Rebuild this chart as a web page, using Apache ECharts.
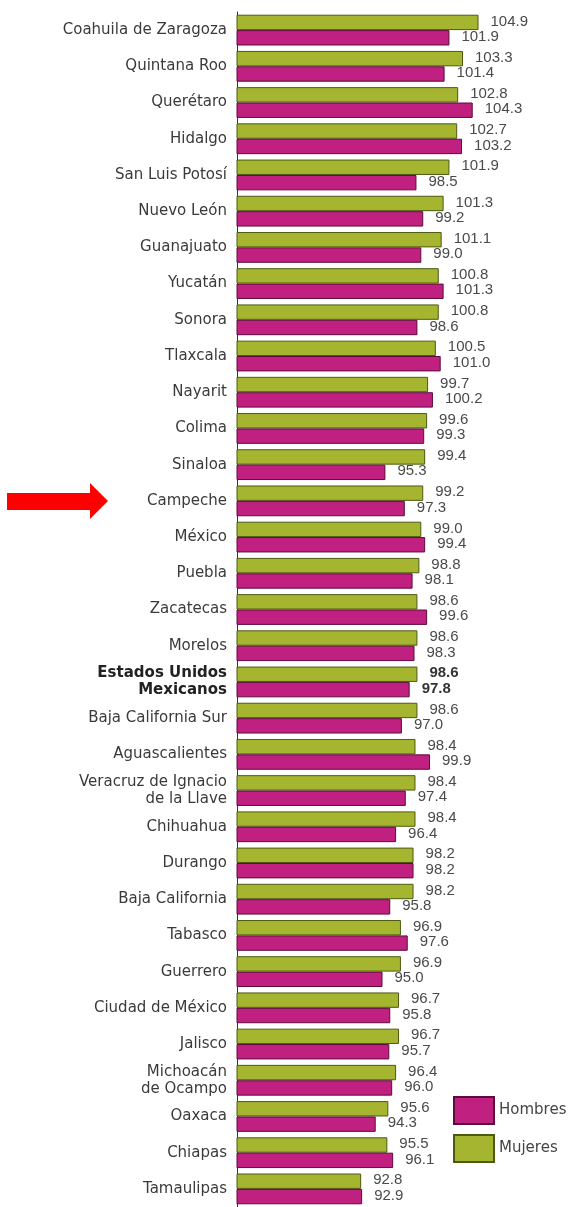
<!DOCTYPE html>
<html>
<head>
<meta charset="utf-8">
<script src="https://cdn.jsdelivr.net/npm/echarts@6/dist/echarts.min.js"></script>
<style>
  html, body { margin: 0; padding: 0; background: #fff; }
  #chart { width: 569px; height: 1207px; }
</style>
</head>
<body>
<div id="chart"></div>
<script>
// entidades, de arriba hacia abajo
const states = [
  "Coahuila de Zaragoza", "Quintana Roo", "Querétaro", "Hidalgo", "San Luis Potosí",
  "Nuevo León", "Guanajuato", "Yucatán", "Sonora", "Tlaxcala", "Nayarit", "Colima",
  "Sinaloa", "Campeche", "México", "Puebla", "Zacatecas", "Morelos",
  "Estados Unidos\nMexicanos", "Baja California Sur", "Aguascalientes",
  "Veracruz de Ignacio\nde la Llave", "Chihuahua", "Durango", "Baja California",
  "Tabasco", "Guerrero", "Ciudad de México", "Jalisco", "Michoacán\nde Ocampo",
  "Oaxaca", "Chiapas", "Tamaulipas"
]
const mujeres = [
  104.9, 103.3, 102.8, 102.7, 101.9, 101.3, 101.1, 100.8, 100.8, 100.5, 99.7, 99.6,
  99.4, 99.2, 99.0, 98.8, 98.6, 98.6, 98.6, 98.6, 98.4, 98.4, 98.4, 98.2, 98.2,
  96.9, 96.9, 96.7, 96.7, 96.4, 95.6, 95.5, 92.8
]
const hombres = [
  101.9, 101.4, 104.3, 103.2, 98.5, 99.2, 99.0, 101.3, 98.6, 101.0, 100.2, 99.3,
  95.3, 97.3, 99.4, 98.1, 99.6, 98.3, 97.8, 97.0, 99.9, 97.4, 96.4, 98.2, 95.8,
  97.6, 95.0, 95.8, 95.7, 96.0, 94.3, 96.1, 92.9
]
const national = "Estados Unidos\nMexicanos"

const valueLabel = {
  show: true,
  position: "right",
  distance: 12,
  offset: [0, -1],
  color: "#4a4a4a",
  fontFamily: "Liberation Sans Narrow, Liberation Sans, sans-serif",
  fontSize: 15,
  formatter: (p) => {
    const txt = p.value.toFixed(1)
    return p.name === national ? "{b|" + txt + "}" : txt
  },
  rich: {
    b: { fontWeight: "bold", color: "#333", fontSize: 15, fontFamily: "Liberation Sans Narrow, Liberation Sans, sans-serif" }
  }
}

const chart = echarts.init(document.getElementById("chart"))
chart.setOption({
  animation: false,
  grid: { left: 237, top: 12, height: 1198, right: 41 },
  legend: {
    data: ["Hombres", "Mujeres"],
    orient: "vertical",
    left: 448,
    top: 1091,
    icon: "rect",
    itemWidth: 40,
    itemHeight: 27,
    itemGap: 9,
    textStyle: { fontFamily: "DejaVu Sans", fontSize: 15, color: "#444" }
  },
  xAxis: {
    type: "value",
    min: 80,
    max: 110,
    show: false
  },
  yAxis: {
    type: "category",
    data: states,
    inverse: true,
    axisLine: { show: true, lineStyle: { color: "#333", width: 1 } },
    axisTick: { show: false },
    axisLabel: {
      margin: 10,
      color: "#3a3a3a",
      fontFamily: "DejaVu Sans",
      fontSize: 15,
      lineHeight: 17,
      formatter: (v) => v === national ? "{b|Estados Unidos}\n{b|Mexicanos}" : v,
      rich: {
        b: { fontWeight: "bold", color: "#222", fontFamily: "DejaVu Sans", fontSize: 15, lineHeight: 17 }
      }
    }
  },
  series: [
    {
      name: "Mujeres",
      type: "bar",
      data: mujeres,
      barGap: "0%",
      barCategoryGap: "15%",
      itemStyle: { color: "#a5b530", borderColor: "#4d5a12", borderWidth: 1 },
      label: valueLabel
    },
    {
      name: "Hombres",
      type: "bar",
      data: hombres,
      barGap: "0%",
      barCategoryGap: "15%",
      itemStyle: { color: "#c0207f", borderColor: "#5c0c3c", borderWidth: 1 },
      label: valueLabel
    }
  ],
  graphic: [
    {
      // flecha roja que señala Campeche
      type: "polygon",
      shape: { points: [[7, 493], [90, 493], [90, 483], [108, 501], [90, 519], [90, 510], [7, 510]] },
      style: { fill: "#ff0000" }
    }
  ]
})
</script>
</body>
</html>
